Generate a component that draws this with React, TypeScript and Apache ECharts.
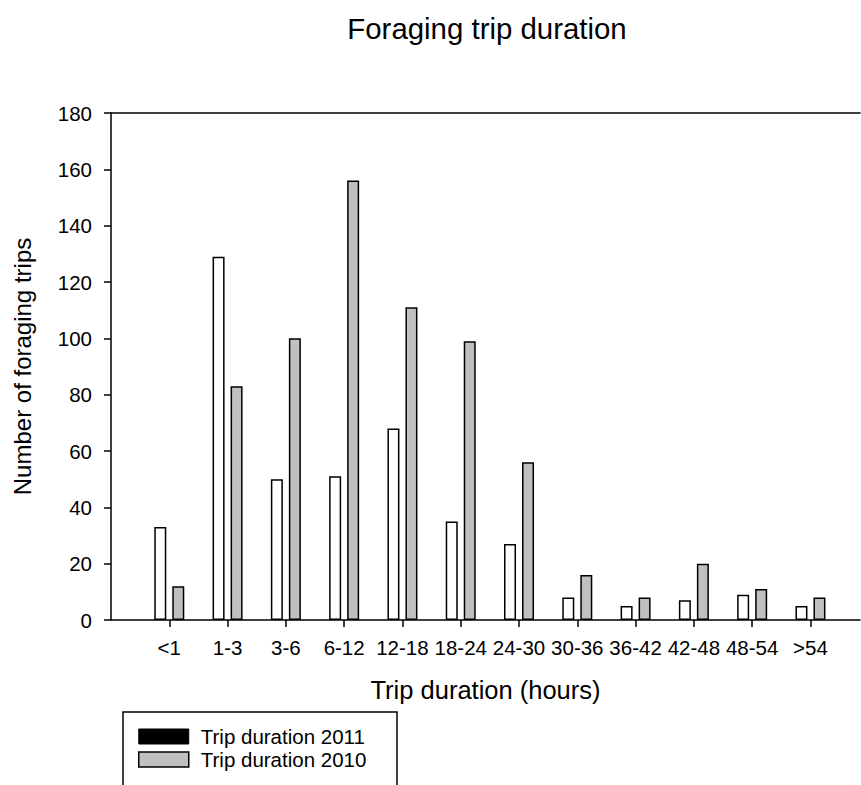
import React, { useEffect, useRef } from "react";
import * as echarts from "echarts";

const categories = ["<1", "1-3", "3-6", "6-12", "12-18", "18-24", "24-30", "30-36", "36-42", "42-48", "48-54", ">54"];
const trips2011 = [33, 129, 50, 51, 68, 35, 27, 8, 5, 7, 9, 5];
const trips2010 = [12, 83, 100, 156, 111, 99, 56, 16, 8, 20, 11, 8];
const yTicks = [0, 20, 40, 60, 80, 100, 120, 140, 160, 180];

const FONT = "'Liberation Sans', Arial, sans-serif";

export default function App() {
  const ref = useRef<HTMLDivElement>(null);
  useEffect(() => {
    document.body.style.margin = "0";
    document.body.style.overflow = "hidden";
    if (!ref.current) return;
    const chart = echarts.init(ref.current, null, { renderer: "svg" });
    const idx = categories.map((_, i) => i);
    const xMin = -1;
    const xMax = 11.85;
    chart.setOption({
      animation: false,
      backgroundColor: "#fff",
      textStyle: { fontFamily: FONT, color: "#000" },
      title: {
        text: "Foraging trip duration",
        left: 482,
        top: 9,
        textAlign: "center",
        textStyle: { fontFamily: FONT, fontSize: 29.4, fontWeight: "normal", color: "#000" },
      },
      grid: { left: 111, right: 1, top: 113, bottom: 165, containLabel: false },
      legend: {
        orient: "vertical",
        left: 138,
        top: 726,
        padding: 0,
        itemWidth: 50,
        itemHeight: 15,
        itemGap: 2,
        icon: "rect",
        textStyle: { fontFamily: FONT, fontSize: 20.5, color: "#000", padding: [0, 0, 0, 7] },
        data: [
          { name: "Trip duration 2011", itemStyle: { color: "#000", borderColor: "#000", borderWidth: 1 } },
          { name: "Trip duration 2010", itemStyle: { color: "#c0c0c0", borderColor: "#000", borderWidth: 1.5 } },
        ],
      },
      graphic: [
        {
          type: "rect",
          shape: { x: 123, y: 712, width: 274, height: 200 },
          style: { fill: "none", stroke: "#000", lineWidth: 1.5 },
          silent: true,
        },
      ],
      xAxis: [
        {
          type: "value",
          min: xMin,
          max: xMax,
          interval: 1,
          name: "Trip duration (hours)",
          nameLocation: "middle",
          nameGap: 57,
          nameMoveOverlap: false,
          nameTextStyle: { fontFamily: FONT, fontSize: 25.5, color: "#000" },
          axisLine: { show: true, onZero: false, lineStyle: { color: "#000", width: 1.5 } },
          axisTick: { show: true, inside: false, length: 7, customValues: idx, lineStyle: { color: "#000", width: 1.5 } },
          axisLabel: {
            show: true,
            customValues: idx,
            margin: 17,
            fontFamily: FONT,
            fontSize: 20.5,
            color: "#000",
            formatter: (v: number) => categories[Math.round(v)] ?? "",
          },
          splitLine: { show: false },
        },
        {
          type: "value",
          position: "top",
          min: xMin,
          max: xMax,
          axisLine: { show: true, onZero: false, lineStyle: { color: "#000", width: 1.5 } },
          axisTick: { show: false },
          axisLabel: { show: false },
          splitLine: { show: false },
        },
      ],
      yAxis: {
        type: "value",
        min: yTicks[0],
        max: yTicks[yTicks.length - 1],
        interval: 20,
        name: "Number of foraging trips",
        nameLocation: "middle",
        nameGap: 77,
        nameMoveOverlap: false,
        nameTextStyle: { fontFamily: FONT, fontSize: 24, color: "#000" },
        axisLine: { show: true, onZero: false, lineStyle: { color: "#000", width: 1.5 } },
        axisTick: { show: true, inside: false, length: 7, lineStyle: { color: "#000", width: 1.5 } },
        axisLabel: { margin: 19, fontFamily: FONT, fontSize: 20.5, color: "#000" },
        splitLine: { show: false },
      },
      series: [
        {
          name: "Trip duration 2011",
          type: "bar",
          xAxisIndex: 0,
          barWidth: 12,
          barGap: "50%",
          itemStyle: { color: "#fff", borderColor: "#000", borderWidth: 1.5 },
          data: trips2011.map((v, i) => [i, v]),
        },
        {
          name: "Trip duration 2010",
          type: "bar",
          xAxisIndex: 0,
          barWidth: 12,
          barGap: "50%",
          itemStyle: { color: "#c0c0c0", borderColor: "#000", borderWidth: 1.5 },
          data: trips2010.map((v, i) => [i, v]),
        },
      ],
    });
    return () => chart.dispose();
  }, []);
  return <div ref={ref} style={{ width: 861, height: 785 }} />;
}
